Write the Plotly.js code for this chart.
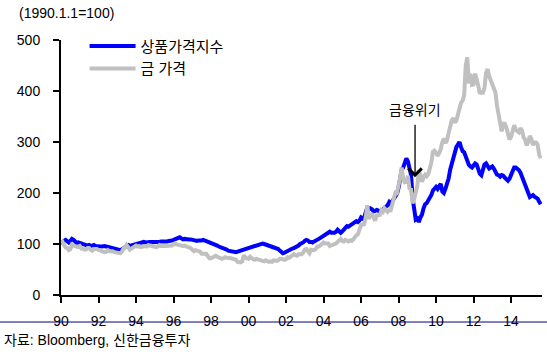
<!DOCTYPE html>
<html>
<head>
<meta charset="utf-8">
<script src="https://cdn.plot.ly/plotly-3.0.1.min.js"></script>
<style>
html,body{margin:0;padding:0;background:#fff;}
#chart{width:547px;height:356px;}
</style>
</head>
<body>
<div id="chart"></div>
<script>
// Monthly series, starting January 1990 (1990.1.1 = 100)
const startYear = 1990;
const seriesNames = ['상품가격지수', '금 가격'];

const commodityIndex = [
  100,104,106,108,105,103,106,110,108,104,102,103, // 1990
  102,100,99,98,97,97,98,96,97,98,96,95,          // 1991
  94,95,95,96,96,95,94,93,94,93,92,91,            // 1992
  90,89,88,90,92,94,97,98,96,97,98,99,            // 1993
  100,101,102,103,104,104,103,104,105,104,104,105, // 1994
  104,104,103,104,105,105,104,105,105,106,106,107, // 1995
  108,109,110,112,113,111,109,110,109,110,109,109, // 1996
  108,107,107,106,107,106,107,108,107,106,105,103, // 1997
  101,100,99,98,97,95,94,92,93,91,89,87,          // 1998
  86,85,84,85,84,85,86,87,88,90,91,92,            // 1999
  94,95,96,95,96,97,98,99,100,101,100,99,         // 2000
  98,97,96,95,94,93,92,90,87,84,82,83,            // 2001
  85,87,88,90,91,92,93,94,97,100,101,103,         // 2002
  106,108,107,104,104,103,105,106,107,110,112,114, // 2003
  117,120,122,123,124,122,121,122,124,128,125,122, // 2004
  125,128,133,135,134,136,138,140,143,145,143,146, // 2005
  152,150,152,162,172,168,170,168,164,165,167,166, // 2006
  162,165,168,172,174,176,182,178,184,190,196,198, // 2007
  210,235,245,250,258,268,262,250,235,190,160,148, // 2008
  150,143,152,158,170,178,180,185,188,196,205,210, // 2009
  212,208,215,218,203,200,208,218,228,245,258,270, // 2010
  280,290,295,300,290,282,280,272,262,255,252,250, // 2011
  254,258,256,245,238,235,248,256,258,252,248,250, // 2012
  252,248,242,236,235,232,235,234,230,226,224,228, // 2013
  235,245,250,250,248,245,240,232,222,215,208,200, // 2014
  192,194,196,193,192,189,183,178                  // 2015
];

const goldPrice = [
  102,104,98,93,92,88,90,99,97,95,95,94,          // 1990
  96,91,91,89,89,92,92,89,87,90,90,90,            // 1991
  88,88,86,84,84,85,88,86,86,86,84,83,            // 1992
  82,82,82,85,92,93,98,94,89,91,93,96,            // 1993
  97,95,96,94,95,96,96,95,98,97,96,95,            // 1994
  95,94,95,98,96,97,96,96,96,96,96,97,            // 1995
  100,101,99,98,98,96,96,97,96,95,94,92,          // 1996
  89,86,88,86,86,85,81,81,81,81,76,72,            // 1997
  72,74,74,77,75,73,73,71,72,74,73,73,            // 1998
  72,72,71,70,69,65,64,64,66,78,73,71,            // 1999
  71,75,71,70,69,71,70,68,68,67,66,68,            // 2000
  66,65,66,65,68,67,67,68,71,71,69,69,            // 2001
  70,74,73,76,78,80,78,77,80,79,80,83,            // 2002
  89,90,85,82,89,89,88,90,95,95,97,101,           // 2003
  103,101,101,101,96,98,99,100,101,105,109,110,   // 2004
  106,105,108,107,105,107,106,109,114,117,119,127, // 2005
  137,138,139,152,176,149,158,158,149,146,156,157, // 2006
  157,166,163,170,166,163,166,166,178,188,201,200, // 2007
  222,230,250,227,221,222,234,209,207,180,188,203, // 2008
  214,245,230,222,231,236,233,237,248,260,281,283, // 2009
  279,273,278,286,300,307,298,303,317,335,342,347, // 2010
  338,342,355,367,377,381,392,450,466,415,434,412, // 2011
  413,434,417,411,395,398,397,406,435,443,429,420, // 2012
  417,406,397,371,353,335,321,336,336,328,318,305, // 2013
  310,324,333,324,321,319,327,323,309,305,293,300, // 2014
  312,306,294,299,299,295,275,268                  // 2015
];

const tickYears = [1990,1992,1994,1996,1998,2000,2002,2004,2006,2008,2010,2012,2014];
const tickLabels = ['90','92','94','96','98','00','02','04','06','08','10','12','14'];
const yTicks = [0,100,200,300,400,500];

const crisisLabel = '금융위기';
const crisisPoint = {x: 2008.88, y: 231};
const unitLabel = '(1990.1.1=100)';
const sourceLabel = '자료: Bloomberg, 신한금융투자';

function monthX(n){ const a=[]; for(let i=0;i<n;i++) a.push(startYear + i/12); return a; }

const FONT = "Arial, 'Liberation Sans', 'Noto Sans CJK KR', sans-serif";

const traces = [
  {x: monthX(commodityIndex.length), y: commodityIndex, name: seriesNames[0], type:'scatter', mode:'lines',
   line:{color:'#0000ff', width:4}},
  {x: monthX(goldPrice.length), y: goldPrice, name: seriesNames[1], type:'scatter', mode:'lines',
   line:{color:'#c0c0c0', width:4}}
];

const axisCommon = {
  showgrid:false, zeroline:false, showline:true, linecolor:'#000', linewidth:2,
  ticks:'outside', ticklen:6, tickwidth:2, tickcolor:'#000',
  tickfont:{family:FONT, size:14, color:'#000'}
};

const layout = {
  width:547, height:356,
  margin:{l:61, r:5, t:40, b:61},
  paper_bgcolor:'#fff', plot_bgcolor:'#fff',
  font:{family:FONT, color:'#000'},
  showlegend:true,
  legend:{x:0.049, y:1.04, xanchor:'left', yanchor:'top', bgcolor:'rgba(0,0,0,0)', itemwidth:46,
          font:{family:FONT, size:15, color:'#000'}, tracegroupgap:0},
  xaxis: Object.assign({}, axisCommon, {range:[1990, 2015.65], tickmode:'array', tickvals:tickYears, ticktext:tickLabels, ticklabelstandoff:6}),
  yaxis: Object.assign({}, axisCommon, {range:[0,500], tickmode:'array', tickvals:yTicks, ticklabelstandoff:10}),
  shapes:[
    {type:'line', xref:'paper', yref:'paper', x0:-0.13, x1:1.02, y0:-0.106, y1:-0.106, line:{color:'#000080', width:1}}
  ],
  annotations:[
    {x:crisisPoint.x, y:crisisPoint.y, xref:'x', yref:'y', text:crisisLabel, showarrow:true,
     ax:0, ay:-67, arrowhead:4, arrowsize:2, arrowwidth:1.3, arrowcolor:'#000', startstandoff:5,
     font:{family:FONT, size:14, color:'#000'}},
    {x:-0.0915, y:1.106, xref:'paper', yref:'paper', xanchor:'left', yanchor:'middle', showarrow:false,
     text:unitLabel, font:{family:FONT, size:14, color:'#000'}},
    {x:-0.1227, y:-0.176, xref:'paper', yref:'paper', xanchor:'left', yanchor:'middle', showarrow:false,
     text:sourceLabel, font:{family:FONT, size:14, color:'#000'}}
  ]
};

Plotly.newPlot('chart', traces, layout, {displayModeBar:false, staticPlot:true});
</script>
</body>
</html>
